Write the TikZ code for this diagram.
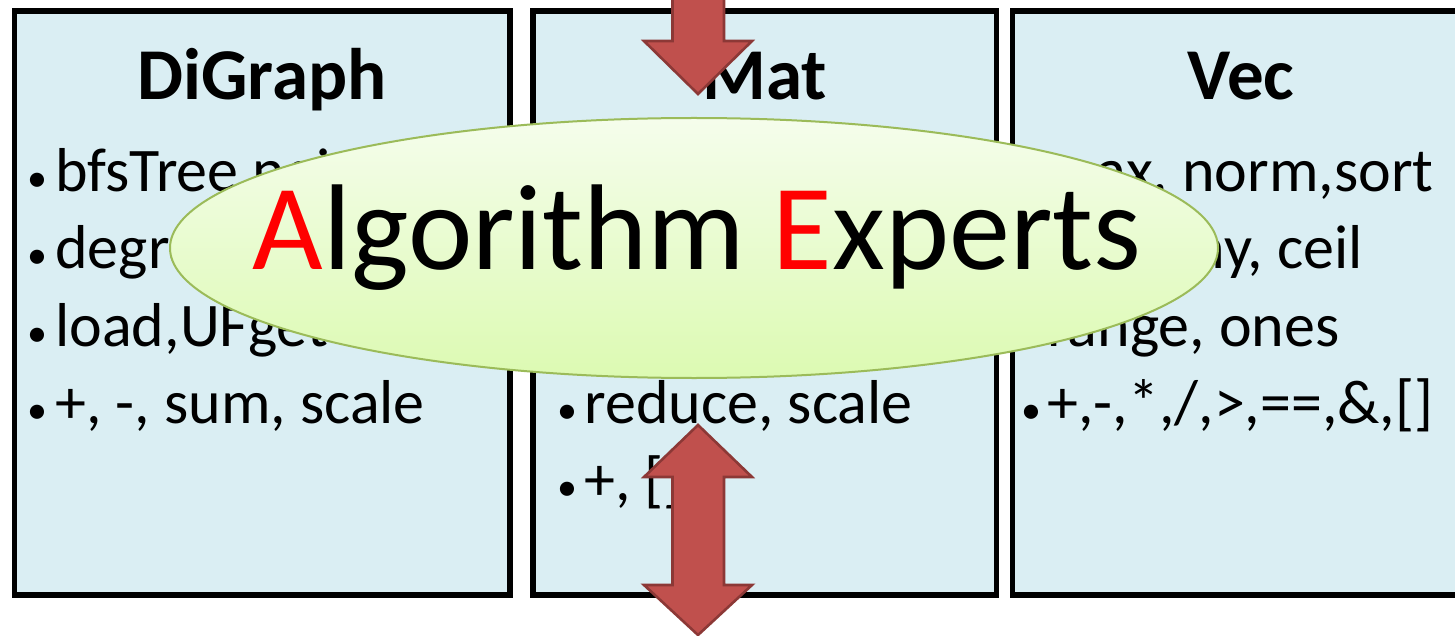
\documentclass[tikz,border=0pt]{standalone}
\usepackage{fontspec}
\setmainfont{Carlito}
\usepackage{xcolor}
\usepackage{tikz}
\usetikzlibrary{shapes.geometric, positioning}

\definecolor{boxblue}{HTML}{DAEEF3}
\definecolor{ellgreen}{HTML}{9BBB59}
\definecolor{elltop}{HTML}{F5FDEC}
\definecolor{ellbot}{HTML}{DCFAB2}
\definecolor{arrowred}{HTML}{C0504D}
\definecolor{arrowdark}{HTML}{8C3836}

\begin{document}
\begin{tikzpicture}[
    x=0.5pt, y=-0.5pt,
    classbox/.style={rectangle, draw=black, line width=2.6pt,
      fill=boxblue, minimum height=292pt, minimum width=231.75pt,
      inner sep=0pt},
    classname/.style={anchor=base, inner sep=0pt,
      font=\fontsize{36.5}{40}\selectfont\bfseries},
    item/.style={anchor=base west, inner sep=0pt,
      font=\fontsize{31}{36}\selectfont},
    dot/.style={anchor=base, inner sep=0pt,
      font=\fontsize{20}{24}\selectfont},
    expert/.style={ellipse, draw=ellgreen, line width=1pt,
      top color=elltop, bottom color=ellbot,
      minimum width=524pt, minimum height=130pt, inner sep=0pt},
    bigtext/.style={anchor=base, inner sep=0pt,
      font=\fontsize{61}{66}\selectfont},
    blockarrow/.style={fill=arrowred, draw=arrowdark, line width=1.3pt},
]
\useasboundingbox (0,0) rectangle (1455,636);

% ── Class boxes ──
\node[classbox, minimum width=247.75pt] (digraph) at (262.25,303) {};
\node[classbox] (mat) at (764.75,303) {};
\node[classbox] (vec) at (1244.25,303) {};

\node[classname] (digraph-name) at (262,100) {DiGraph};
\node[classname] (mat-name) at (765,100) {Mat};
\node[classname] (vec-name) at (1241,100) {Vec};

% ── Method lists ──
\foreach \txt [count=\i] in {{bfsTree neighbors}, {degree, subgraph},
    {load,UFget}, {+, -, sum, scale}} {
  \node[dot] (g-dot\i) at (37,115+77*\i) {\textbullet};
  \node[item] (g-item\i) at (55,115+77*\i) {\txt};
}
\foreach \txt [count=\i from 4] in {{reduce, scale}, {+, []}} {
  \node[dot] (m-dot\i) at (567,115+77*\i) {\textbullet};
  \node[item] (m-item\i) at (584,115+77*\i) {\txt};
}
\foreach \txt [count=\i] in {{max, norm,sort}, {abs, any, ceil},
    {range, ones}, {+,-,*,/,>,==,\&,[]}} {
  \node[dot] (v-dot\i) at (1031,115+77*\i) {\textbullet};
  \node[item] (v-item\i) at (1047,115+77*\i) {\txt};
}

% ── Algorithm experts ──
\node[expert] (ae) at (694,248) {};
\node[bigtext] (ae-text) at (697,270)
  {\textcolor{red}{A}lgorithm \textcolor{red}{E}xperts};

% ── Block arrows ──
\draw[blockarrow] (672.5,-10) -- (724,-10) -- (724,41) -- (752,41)
  -- (698,94) -- (644,41) -- (672.5,41) -- cycle;
\draw[blockarrow] (698,425) -- (752,477) -- (724,477) -- (724,585)
  -- (752,585) -- (698,635) -- (644,585) -- (672.5,585)
  -- (672.5,477) -- (644,477) -- cycle;

\end{tikzpicture}
\end{document}
